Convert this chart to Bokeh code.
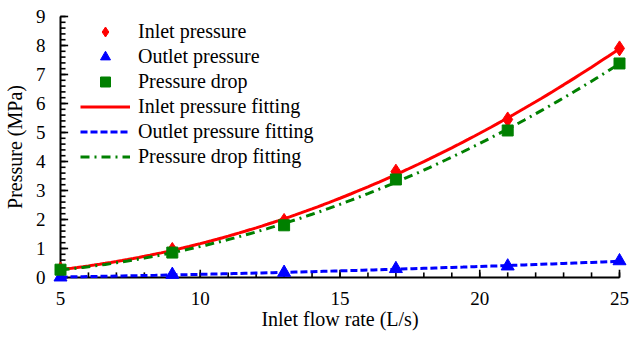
import numpy as np
from bokeh.plotting import figure
from bokeh.models import Range1d, SingleIntervalTicker, Legend, LegendItem
from bokeh.embed import file_html
from bokeh.resources import INLINE

# ---- data ----
flow_rate = [5, 9, 13, 17, 21, 25]
inlet_pressure = [0.28, 0.95, 1.95, 3.65, 5.45, 7.9]
outlet_pressure = [0.01, 0.1, 0.17, 0.3, 0.39, 0.57]
pressure_drop = [0.27, 0.86, 1.8, 3.38, 5.07, 7.38]

# axis extents and tick steps
x_lo, x_hi = 5, 25
y_lo, y_hi = 0, 9
x_major_step, x_minor_step = 5, 1
y_major_step, y_minor_step = 1, 0.2

FONT = "Liberation Serif"

# quadratic fitting curves (as in the original chart's legend)
fit_x = np.linspace(flow_rate[0], flow_rate[-1], 101)
inlet_fit = np.polyval(np.polyfit(flow_rate, inlet_pressure, 2), fit_x)
outlet_fit = np.polyval(np.polyfit(flow_rate, outlet_pressure, 2), fit_x)
drop_fit = np.polyval(np.polyfit(flow_rate, pressure_drop, 2), fit_x)

# inward tick positions (the axes of the original have ticks pointing into the plot)
x_major = np.arange(x_lo, x_hi + 1e-9, x_major_step)
x_minor = np.arange(x_lo, x_hi + 1e-9, x_minor_step)
y_major = np.arange(y_lo, y_hi + 1e-9, y_major_step)
y_minor = np.round(np.arange(y_lo, y_hi + 1e-9, y_minor_step), 3)

p = figure(width=630, height=337, output_backend="svg", toolbar_location=None,
           x_range=Range1d(x_lo, x_hi), y_range=Range1d(y_lo, y_hi),
           min_border_left=60, min_border_right=11, min_border_top=16, min_border_bottom=60)
p.outline_line_color = None
p.background_fill_color = None
p.border_fill_color = "white"
p.xgrid.grid_line_color = None
p.ygrid.grid_line_color = None

# tick marks drawn inward from the axis lines, as short dash markers set just inside
tick_kw = dict(marker="dash", line_color="black", line_width=1.6, level="overlay")
p.scatter(x=x_minor, y=[y_lo + 0.09] * len(x_minor), size=5, angle=np.pi / 2, **tick_kw)
p.scatter(x=x_major, y=[y_lo + 0.13] * len(x_major), size=8, angle=np.pi / 2, **tick_kw)
p.scatter(x=[x_lo + 0.09] * len(y_minor), y=y_minor, size=5, angle=0, **tick_kw)
p.scatter(x=[x_lo + 0.13] * len(y_major), y=y_major, size=8, angle=0, **tick_kw)

r_in_fit = p.line(fit_x, inlet_fit, line_color="#FF0000", line_width=3, level="overlay")
r_out_fit = p.line(fit_x, outlet_fit, line_color="#0000FF", line_width=3, line_dash="7 3", level="overlay")
r_drop_fit = p.line(fit_x, drop_fit, line_color="#008000", line_width=3, line_dash="9 5 2 5", level="overlay")

r_in = p.scatter(flow_rate, inlet_pressure, marker="diamond", size=15, color="#FF0000", level="overlay")
r_out = p.scatter(flow_rate, outlet_pressure, marker="triangle", size=13, color="#0000FF", level="overlay")
r_drop = p.scatter(flow_rate, pressure_drop, marker="square", size=11, color="#008000", level="overlay")

for ax in (p.xaxis[0], p.yaxis[0]):
    ax.axis_line_color = "black"
    ax.axis_line_width = 2
    ax.major_tick_in = 0
    ax.major_tick_out = 0
    ax.minor_tick_in = 0
    ax.minor_tick_out = 0
    ax.minor_tick_line_color = None
    ax.major_tick_line_color = None
    ax.major_label_text_font = FONT
    ax.major_label_text_font_size = "19px"
    ax.major_label_text_color = "black"
    ax.axis_label_text_font = FONT
    ax.axis_label_text_font_size = "20px"
    ax.axis_label_text_font_style = "normal"
    ax.axis_label_text_color = "black"

p.xaxis.ticker = SingleIntervalTicker(interval=x_major_step, num_minor_ticks=5)
p.yaxis.ticker = SingleIntervalTicker(interval=y_major_step, num_minor_ticks=5)
p.xaxis.axis_label = "Inlet flow rate (L/s)"
p.yaxis.axis_label = "Pressure (MPa)"
p.xaxis.major_label_standoff = 14
p.xaxis.axis_label_standoff = 0
p.yaxis.major_label_standoff = 15
p.yaxis.axis_label_standoff = 7

legend = Legend(items=[
    LegendItem(label="Inlet pressure", renderers=[r_in]),
    LegendItem(label="Outlet pressure", renderers=[r_out]),
    LegendItem(label="Pressure drop", renderers=[r_drop]),
    LegendItem(label="Inlet pressure fitting", renderers=[r_in_fit]),
    LegendItem(label="Outlet pressure fitting", renderers=[r_out_fit]),
    LegendItem(label="Pressure drop fitting", renderers=[r_drop_fit]),
], location=(20, 108))
legend.padding = 0
legend.margin = 0
legend.spacing = 0
legend.glyph_width = 50
legend.glyph_height = 25
legend.label_height = 25
legend.label_standoff = 8
legend.label_text_font = FONT
legend.label_text_font_size = "20px"
legend.label_text_color = "black"
legend.border_line_alpha = 0
legend.background_fill_alpha = 0
p.add_layout(legend, "center")

open("out.html", "w").write(file_html(p, INLINE))
